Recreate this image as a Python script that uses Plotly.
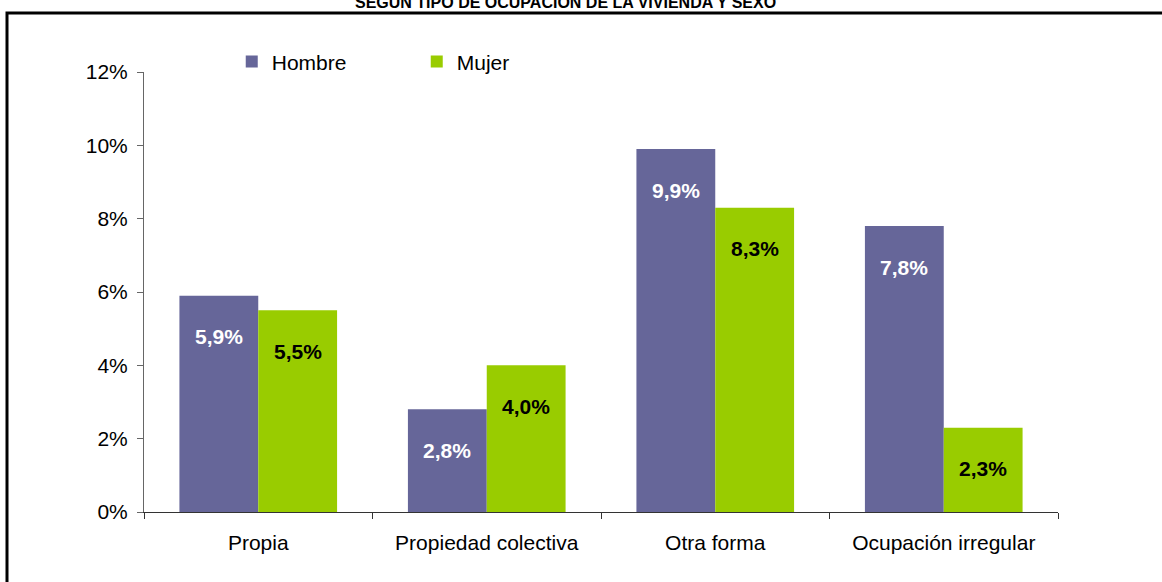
import plotly.graph_objects as go

categories = ["Propia", "Propiedad colectiva", "Otra forma", "Ocupación irregular"]
hombre = [5.9, 2.8, 9.9, 7.8]
mujer = [5.5, 4.0, 8.3, 2.3]
tick_vals = [0, 2, 4, 6, 8, 10, 12]
tick_text = ["0%", "2%", "4%", "6%", "8%", "10%", "12%"]
title_text = "SEGÚN TIPO DE OCUPACIÓN DE LA VIVIENDA Y SEXO"

C_H = "#666699"
C_M = "#99CC00"
FONT = "Liberation Sans, Arial"

fig = go.Figure()
fig.add_trace(go.Bar(name="Hombre", x=categories, y=hombre, marker=dict(color=C_H, line=dict(width=0))))
fig.add_trace(go.Bar(name="Mujer", x=categories, y=mujer, marker=dict(color=C_M, line=dict(width=0))))

def fmt(v):
    return f"{v:.1f}%".replace(".", ",")

annotations = []
for c, h, m in zip(categories, hombre, mujer):
    annotations.append(dict(x=c, y=h, xref="x", yref="y", text=f"<b>{fmt(h)}</b>", showarrow=False,
                            xshift=-39.5, yshift=-41, font=dict(family=FONT, size=21, color="white")))
    annotations.append(dict(x=c, y=m, xref="x", yref="y", text=f"<b>{fmt(m)}</b>", showarrow=False,
                            xshift=39.5, yshift=-41, font=dict(family=FONT, size=21, color="black")))

annotations.append(dict(x=(565 - 144) / 914, y=1 + 70 / 440, xref="paper", yref="paper",
                        xanchor="center", yanchor="middle", text=f"<b>{title_text}</b>", showarrow=False,
                        font=dict(family=FONT, size=16, color="black")))

fig.update_layout(
    width=1162, height=582,
    margin=dict(l=144, r=104, t=72, b=70),
    paper_bgcolor="white", plot_bgcolor="white",
    barmode="group", bargap=0.31, bargroupgap=0,
    font=dict(family=FONT, size=21, color="black"),
    showlegend=True,
    legend=dict(orientation="h", x=0.096, y=1.023, xanchor="left", yanchor="middle",
                font=dict(size=21), entrywidth=140, bgcolor="rgba(0,0,0,0)", traceorder="normal"),
    annotations=annotations,
    shapes=[dict(type="rect", xref="paper", yref="paper",
                 x0=(7 - 144) / 914, x1=(1175 - 144) / 914, y0=(70 - 600) / 440, y1=1 + 59 / 440,
                 line=dict(color="black", width=3), fillcolor="rgba(0,0,0,0)", layer="below")],
)
fig.update_yaxes(range=[0, 12], tickvals=tick_vals, ticktext=tick_text, ticks="outside", ticklen=6,
                 tickcolor="#666666", showline=True, linecolor="#666666", linewidth=1, showgrid=False,
                 zeroline=False, tickfont=dict(size=21), ticklabelstandoff=5)
fig.update_xaxes(ticks="outside", tickson="boundaries", ticklen=6, tickcolor="#333333", showline=True,
                 linecolor="#333333", linewidth=1, showgrid=False, tickfont=dict(size=21),
                 ticklabelstandoff=12)

fig.write_html("out.html", post_script="document.body.style.margin='0';",
               config={"displayModeBar": False})
